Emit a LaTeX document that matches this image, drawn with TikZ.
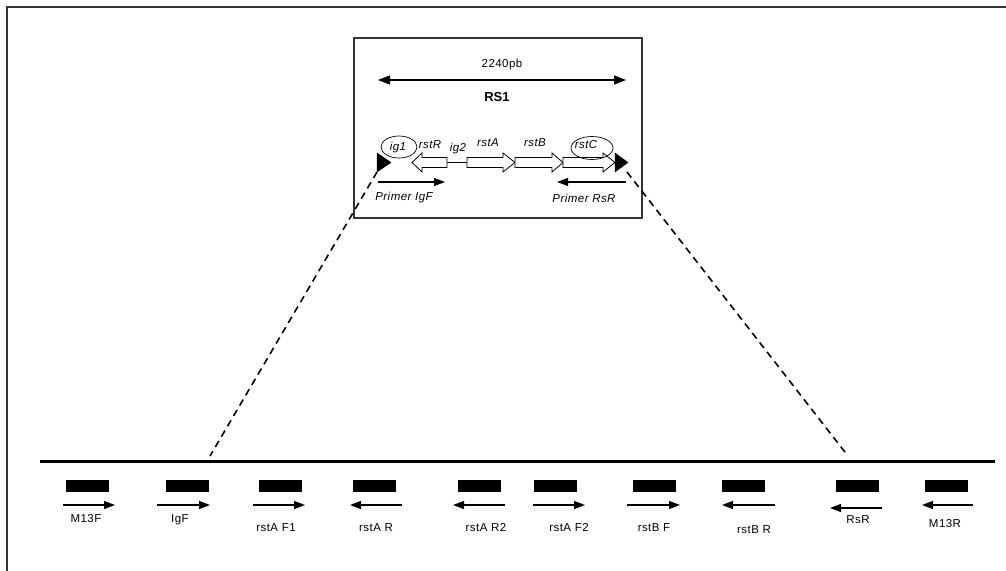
\documentclass[tikz,border=0pt]{standalone}
\usepackage{fontspec}
\setmainfont{Liberation Sans}
\newfontfamily\spacedsans[LetterSpace=4]{Liberation Sans}
\usetikzlibrary{arrows.meta}
\begin{document}
\begin{tikzpicture}[x=1pt,y=-1pt,
  frameline/.style={draw=black!80,line width=1.3pt},
  gene/.style={draw=black,fill=white,line width=0.8pt},
  blacktri/.style={fill=black},
  lab/.style={font=\spacedsans\fontsize{11.5}{13}\selectfont\itshape,inner sep=0pt},
  plab/.style={font=\spacedsans\fontsize{11.5}{13}\selectfont,inner sep=0pt},
  bar/.style={fill=black,minimum width=43pt,minimum height=12pt,inner sep=0pt},
  parrow/.style={line width=1.2pt,-{Triangle[length=11pt,width=8pt]}},
  dline/.style={line width=1.6pt,dash pattern=on 7pt off 5pt}]
\useasboundingbox (0,0) rectangle (1006,570);
\clip (0,0) rectangle (1006,570);
% outer frame
\draw[frameline] (7,7) rectangle (1030,600);
% inner box
\draw[frameline] (354,38) rectangle (642,218);
% size arrow
\coordinate (sL) at (378,80);
\coordinate (sR) at (626,80);
\draw[line width=1.3pt,{Triangle[length=12pt,width=9pt]}-{Triangle[length=12pt,width=9pt]}] (sL) -- (sR);
\node[plab] (len) at (502,65) {2240pb};
\node[font=\fontsize{13}{15}\selectfont\bfseries,inner sep=0pt] (rs1) at (497,97) {RS1};
% left black triangle
\draw[blacktri] (377,153) -- (391,162.5) -- (377,172) -- cycle;
\coordinate (tL) at (377,172);
% genes
\draw[line width=0.8pt] (447,162.5) -- (467,162.5);
\draw[gene] (447,157.5) -- (422,157.5) -- (422,153) -- (412,162.5) -- (422,172) -- (422,167.5) -- (447,167.5) -- cycle;
\draw[gene] (467,157.5) -- (503,157.5) -- (503,153) -- (515,162.5) -- (503,172) -- (503,167.5) -- (467,167.5) -- cycle;
\draw[gene] (515,157.5) -- (552,157.5) -- (552,153) -- (563,162.5) -- (552,172) -- (552,167.5) -- (515,167.5) -- cycle;
\draw[gene] (563,157.5) -- (603,157.5) -- (603,153) -- (615,162.5) -- (603,172) -- (603,167.5) -- (563,167.5) -- cycle;
% right black triangle
\draw[blacktri] (615,153) -- (628,162.5) -- (615,172) -- cycle;
\coordinate (tR) at (627,172);
% ellipses
\draw[gene,line width=0.7pt] (399,147) ellipse [x radius=18,y radius=11];
\draw[line width=0.7pt] (592,148) ellipse [x radius=21,y radius=11.5];
% gene labels
\node[lab] (ig1) at (398,148) {ig1};
\node[lab] (rstR) at (430,145) {rstR};
\node[lab] (ig2) at (458,149) {ig2};
\node[lab] (rstA) at (488,143) {rstA};
\node[lab] (rstB) at (535,143) {rstB};
\node[lab] (rstC) at (586,145) {rstC};
% primers
\coordinate (pf1) at (378,182);
\coordinate (pf2) at (445,182);
\draw[parrow] (pf1) -- (pf2);
\coordinate (pr1) at (626,182);
\coordinate (pr2) at (557,182);
\draw[parrow] (pr1) -- (pr2);
\node[lab] (pIgF) at (404,198) {Primer IgF};
\node[lab] (pRsR) at (584,198) {Primer RsR};
% genome line
\coordinate (gL) at (40,461.5);
\coordinate (gR) at (995,461.5);
\draw[line width=3pt] (gL) -- (gR);
\coordinate (dL) at (210,456);
\coordinate (dR) at (848,456);
\draw[dline] (tL) -- (dL);
\draw[dline] (tR) -- (dR);
% bars
\foreach \n/\x in {b1/87,b2/187,b3/280,b4/374,b5/479,b6/555,b7/654,b8/743,b9/857,b10/946}{
  \node[bar] (\n) at (\x,486) {};
}
% arrows
\foreach \a/\b/\y in {63/115/505,157/210/505,253/305/505,402/350/505,505/453/505,533/585/505,627/680/505,775/722/505,882/830/508,973/922/505}{
  \draw[parrow] (\a,\y) -- (\b,\y);
}
% labels
\node[plab] (l1) at (86,519) {M13F};
\node[plab] (l2) at (180,520) {IgF};
\node[plab] (l3) at (276,528) {rstA F1};
\node[plab] (l4) at (376,528) {rstA R};
\node[plab] (l5) at (486,528) {rstA R2};
\node[plab] (l6) at (569,528) {rstA F2};
\node[plab] (l7) at (654,528) {rstB F};
\node[plab] (l8) at (754,530) {rstB R};
\node[plab] (l9) at (858,520) {RsR};
\node[plab] (l10) at (945,524) {M13R};
\end{tikzpicture}
\end{document}
